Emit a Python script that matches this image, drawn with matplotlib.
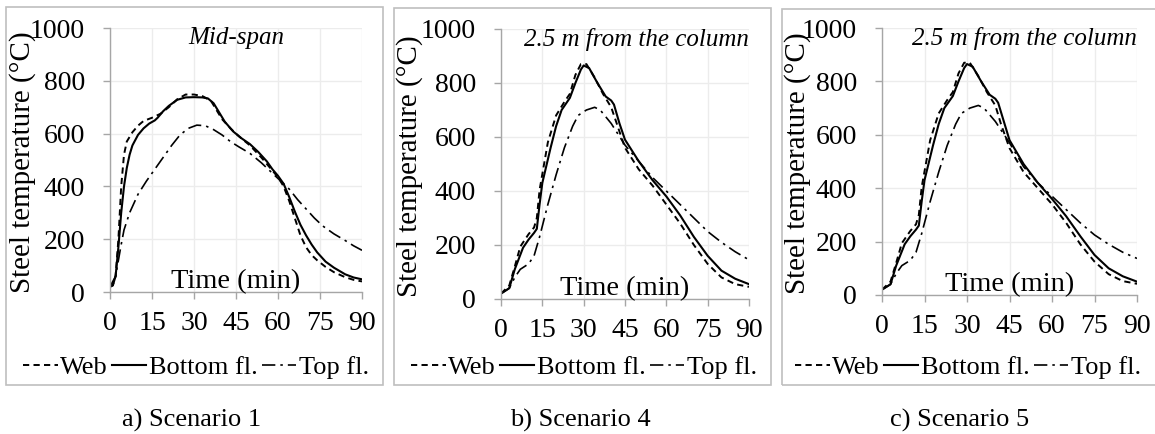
import matplotlib
matplotlib.use("Agg")
import matplotlib.pyplot as plt
from matplotlib.patches import Rectangle

plt.rcParams["font.family"] = ["Liberation Serif", "DejaVu Serif"]

# ---- data ----
# Scenario 1, mid-span
s1_web_t = [0, 1, 2, 3, 4, 5, 6, 8, 10, 12, 15, 18, 21, 24, 27, 30, 33, 36, 38, 40, 43, 46,
            50, 54, 58, 60, 62, 64, 66, 68, 70, 72, 74, 77, 80, 84, 87, 90]
s1_web = [20, 25, 60, 200, 400, 520, 570, 605, 630, 648, 660, 675, 700, 730, 748, 748, 742, 725,
          690, 655, 620, 590, 555, 510, 460, 435, 400, 345, 280, 215, 170, 140, 120, 95, 75, 56, 46, 40]
s1_bot_t = [0, 1, 2, 3, 4, 5, 6, 7, 8, 10, 12, 14, 16, 17, 19, 21, 24, 27, 30, 33, 35, 37, 39,
            41, 44, 47, 50, 53, 56, 58, 60, 62, 64, 66, 68, 70, 72, 74, 77, 80, 84, 87, 90]
s1_bot = [20, 25, 60, 170, 300, 400, 470, 520, 555, 595, 620, 638, 650, 660, 685, 705, 728, 737,
          738, 737, 733, 715, 680, 645, 608, 582, 560, 530, 495, 465, 440, 410, 360, 305, 255, 215,
          180, 150, 115, 92, 67, 55, 48]
s1_top_t = [0, 2, 3, 4, 5, 7, 10, 13, 16, 19, 22, 25, 28, 31, 34, 37, 40, 43, 46, 50, 54, 58,
            61, 64, 67, 70, 73, 76, 80, 84, 87, 90]
s1_top = [20, 60, 120, 180, 235, 300, 370, 420, 465, 510, 555, 595, 620, 632, 630, 615, 595, 570,
          550, 525, 490, 450, 420, 390, 350, 315, 280, 250, 220, 195, 175, 158]

# Scenario 4, 2.5 m from the column
s4_web_t = [0, 3, 5, 7, 10, 12, 13, 14, 17, 20, 23, 25, 27, 29, 31, 34, 37, 40, 42, 45, 50, 55,
            60, 65, 70, 75, 80, 85, 90]
s4_web = [20, 50, 120, 194, 240, 265, 300, 404, 580, 680, 730, 760, 830, 870, 870, 820, 760, 710,
          650, 560, 480, 420, 350, 280, 200, 130, 80, 55, 45]
s4_bot_t = [0, 3, 5, 8, 10, 12, 13, 14, 15, 18, 20, 22, 24, 25, 27, 29, 30, 32, 35, 38, 40, 41,
            43, 45, 50, 55, 60, 65, 70, 75, 80, 85, 90]
s4_bot = [20, 40, 110, 190, 220, 245, 260, 350, 430, 560, 640, 700, 730, 745, 800, 850, 865, 855,
          800, 750, 735, 720, 650, 590, 510, 440, 380, 310, 230, 160, 105, 75, 55]
s4_top_t = [0, 3, 5, 7, 10, 12, 14, 17, 20, 23, 26, 28, 31, 34, 36, 40, 45, 50, 55, 60, 65, 70,
            75, 80, 85, 90]
s4_top = [20, 40, 80, 110, 130, 160, 230, 350, 460, 560, 640, 680, 700, 710, 700, 650, 570, 510,
          450, 400, 350, 300, 250, 210, 175, 145]

# Scenario 5, 2.5 m from the column
s5_web_t = [0, 3, 5, 7, 10, 12, 13, 14, 17, 20, 23, 25, 27, 29, 31, 34, 37, 40, 42, 45, 50, 55,
            60, 65, 70, 75, 80, 85, 90]
s5_web = [20, 50, 120, 194, 240, 265, 300, 404, 580, 680, 730, 760, 830, 870, 870, 820, 760, 710,
          640, 550, 460, 400, 340, 270, 190, 125, 78, 52, 42]
s5_bot_t = [0, 3, 5, 8, 10, 12, 13, 14, 15, 18, 20, 22, 24, 25, 27, 29, 30, 32, 35, 38, 40, 41,
            43, 45, 50, 55, 60, 65, 70, 75, 80, 85, 90]
s5_bot = [20, 40, 110, 190, 220, 245, 260, 350, 430, 560, 640, 700, 730, 745, 800, 850, 865, 855,
          800, 750, 735, 720, 650, 580, 490, 420, 360, 295, 220, 150, 100, 70, 50]
s5_top_t = [0, 3, 5, 7, 10, 12, 14, 17, 20, 23, 26, 28, 31, 34, 36, 40, 45, 50, 55, 60, 65, 70,
            75, 80, 85, 90]
s5_top = [20, 40, 80, 110, 130, 160, 230, 350, 460, 560, 640, 680, 700, 710, 700, 650, 570, 480,
          420, 370, 320, 270, 225, 190, 160, 137]

x_ticks = [0, 15, 30, 45, 60, 75, 90]
y_ticks = [0, 200, 400, 600, 800, 1000]
legend_labels = ["Web", "Bottom fl.", "Top fl."]
captions = ["a) Scenario 1", "b) Scenario 4", "c) Scenario 5"]
titles = ["Mid-span", "2.5 m from the column", "2.5 m from the column"]

W, H = 1155, 434
fig = plt.figure(figsize=(W / 100, H / 100), dpi=100)


def fx(px):
    return px / W


def fy(py):
    return 1 - py / H


# pixel layout: panel box, axes box, ylabel x, caption x, legend centre x
panels = [
    dict(box=(6, 7, 383, 385), ax=(110, 28, 362, 292), ylab=23, cap=192, leg=196,
         title_x=0.5, title_ha="center"),
    dict(box=(394, 8, 771, 385), ax=(501, 29, 749, 299), ylab=410, cap=580, leg=584,
         title_x=1.0, title_ha="right"),
    dict(box=(782, 9, 1170, 385), ax=(882, 28, 1137, 295), ylab=798, cap=960, leg=968,
         title_x=1.0, title_ha="right"),
]

series = [
    (s1_web_t, s1_web, s1_bot_t, s1_bot, s1_top_t, s1_top),
    (s4_web_t, s4_web, s4_bot_t, s4_bot, s4_top_t, s4_top),
    (s5_web_t, s5_web, s5_bot_t, s5_bot, s5_top_t, s5_top),
]

axis_grey = "#a6a6a6"
grid_grey = "#ececec"

for i, p in enumerate(panels):
    bx0, by0, bx1, by1 = p["box"]
    fig.patches.append(Rectangle((fx(bx0), fy(by1)), fx(bx1 - bx0), (by1 - by0) / H,
                                 transform=fig.transFigure, fill=False,
                                 edgecolor="#bfbfbf", linewidth=1.2))

    ax0, ay0, ax1, ay1 = p["ax"]
    ax = fig.add_axes([fx(ax0), fy(ay1), fx(ax1 - ax0), (ay1 - ay0) / H])
    wt, wv, bt, bv, tt, tv = series[i]
    ax.plot(wt, wv, color="black", lw=1.4, ls=(0, (3.2, 2.2)), label=legend_labels[0])
    ax.plot(bt, bv, color="black", lw=1.5, ls="-", label=legend_labels[1])
    ax.plot(tt, tv, color="black", lw=1.2, ls=(0, (8, 3, 1.5, 3)), label=legend_labels[2])

    ax.set_xlim(0, 90)
    ax.set_ylim(0, 1000)
    ax.set_xticks(x_ticks)
    ax.set_yticks(y_ticks)
    ax.grid(True, color=grid_grey, lw=1.0)
    ax.set_axisbelow(True)
    for s in ["top", "right"]:
        ax.spines[s].set_visible(False)
    for s in ["left", "bottom"]:
        ax.spines[s].set_color(axis_grey)
        ax.spines[s].set_linewidth(1.0)
    ax.tick_params(axis="both", colors=axis_grey, labelcolor="black", labelsize=20,
                   length=5, width=1.0)
    ax.tick_params(axis="y", pad=13)
    ax.tick_params(axis="x", pad=9)

    ax.text(0.5, 0.04, "Time (min)", transform=ax.transAxes, ha="center", va="center",
            fontsize=20.5)
    ax.text(p["title_x"], 0.962, titles[i], transform=ax.transAxes, ha=p["title_ha"],
            va="center", fontsize=18, style="italic")

    fig.text(fx(p["ylab"]), fy((ay0 + ay1) / 2 + 2), "Steel temperature (\u00b0C)",
             rotation=90, ha="center", va="center", fontsize=21)

    ax.legend(loc="center", bbox_to_anchor=(fx(p["leg"]), fy(367)),
              bbox_transform=fig.transFigure, ncol=3, frameon=False, fontsize=19,
              handlelength=1.3, handletextpad=0.1, columnspacing=0.15, borderpad=0,
              borderaxespad=0)

    fig.text(fx(p["cap"]), fy(420), captions[i], ha="center", va="center", fontsize=19)

fig.savefig("out.png", dpi=100)
